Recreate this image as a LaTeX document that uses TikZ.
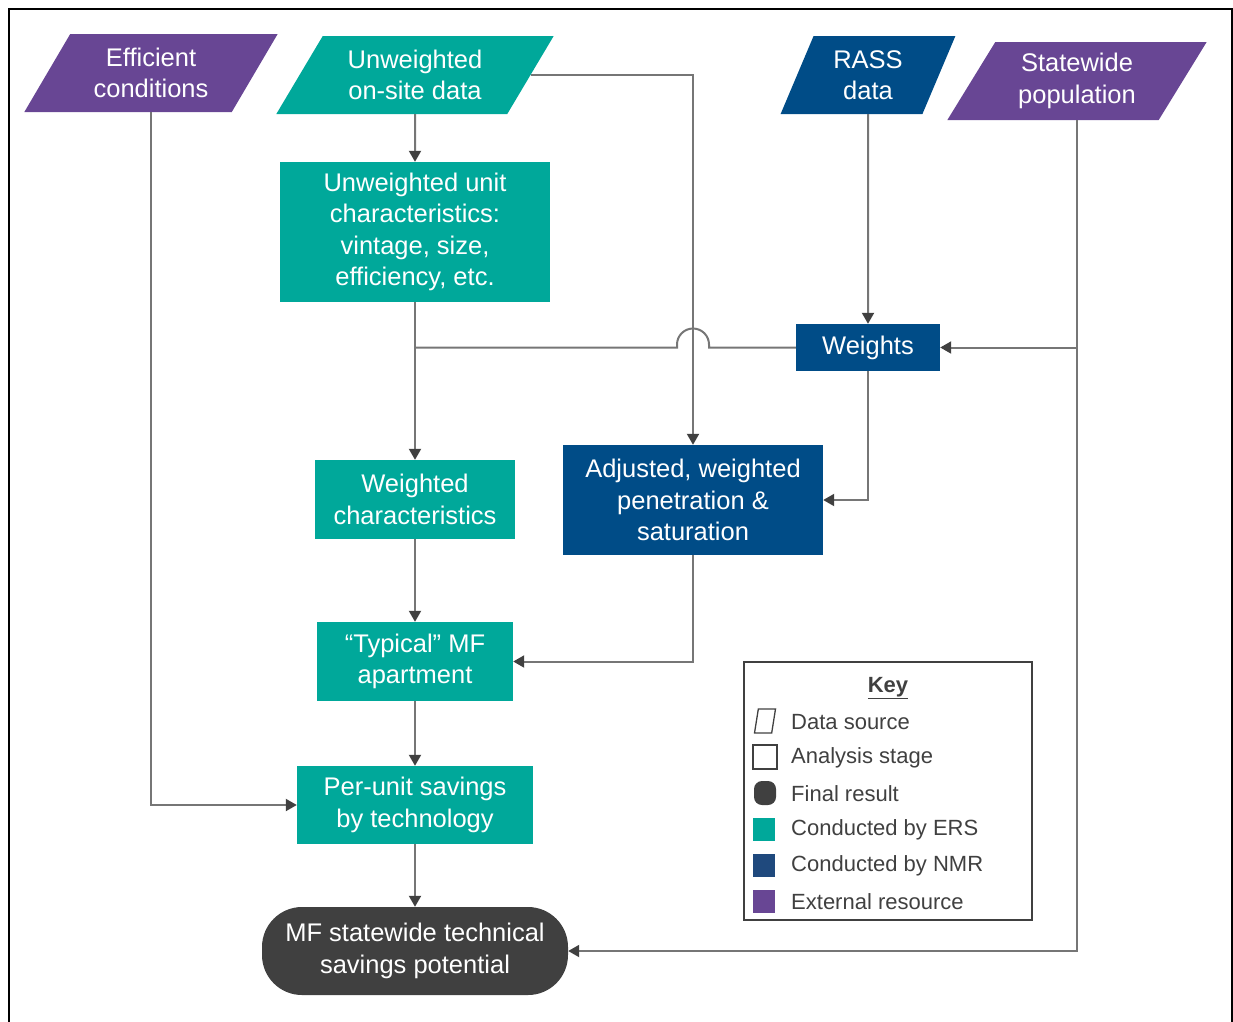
\documentclass[tikz,border=0pt]{standalone}
\usepackage{fontspec}
\setmainfont{Liberation Sans}
\usetikzlibrary{shapes.geometric,arrows.meta}

\definecolor{ersteal}{RGB}{0,168,154}
\definecolor{nmrblue}{RGB}{0,76,135}
\definecolor{keyblue}{RGB}{31,73,125}
\definecolor{extpurple}{RGB}{104,70,148}
\definecolor{finalgray}{RGB}{64,64,64}
\definecolor{linegray}{RGB}{118,118,118}

\newcommand{\flowfont}{\fontsize{25.5}{31.5}\selectfont}
\newcommand{\legendfont}{\fontsize{22}{25}\selectfont}

\tikzset{
  stage/.style={rectangle, text=white, align=center, font=\flowfont, inner sep=0pt},
  datasrc/.style={trapezium, trapezium stretches=true, text=white, align=center, font=\flowfont, inner sep=0pt, minimum height=78pt},
  link/.style={draw=linegray, line width=2pt},
  arrow/.style={link, -{Triangle[length=11pt, width=12pt, color=finalgray]}},
  keyicon/.style={inner sep=0pt, line width=1.3pt},
  keyitem/.style={anchor=west, text=finalgray, font=\legendfont, inner sep=0pt},
}

\begin{document}
\begin{tikzpicture}[x=1pt, y=-1pt]
  \useasboundingbox (0,0) rectangle (1233,1021);
  \draw[line width=2pt] (9,1030) -- (9,9) -- (1232,9) -- (1232,1030);

  \node[datasrc, fill=extpurple, trapezium left angle=57, trapezium right angle=123, minimum width=254pt] (effic) at (151,73) {Efficient\\conditions};
  \node[datasrc, fill=ersteal, trapezium left angle=56, trapezium right angle=124, minimum width=278pt] (onsite) at (415,75) {Unweighted\\on-site data};
  \node[datasrc, fill=nmrblue, trapezium left angle=67, trapezium right angle=113, minimum width=175pt] (rass) at (868,75) {RASS\\data};
  \node[datasrc, fill=extpurple, trapezium left angle=58, trapezium right angle=122, minimum width=260pt] (statewide) at (1077,81) {Statewide\\population};

  \node[stage, fill=ersteal, minimum width=270pt, minimum height=140pt] (unitchar) at (415,232) {Unweighted unit\\characteristics:\\vintage, size,\\efficiency, etc.};
  \node[stage, fill=nmrblue, minimum width=144pt, minimum height=47pt] (weights) at (868,347.5) {Weights};
  \node[stage, fill=ersteal, minimum width=200pt, minimum height=79pt] (weighted) at (415,499.5) {Weighted\\characteristics};
  \node[stage, fill=nmrblue, minimum width=260pt, minimum height=110pt] (adjusted) at (693,500) {Adjusted, weighted\\penetration \&\\saturation};
  \node[stage, fill=ersteal, minimum width=196pt, minimum height=79pt] (typical) at (415,661.5) {“Typical” MF\\apartment};
  \node[stage, fill=ersteal, minimum width=236pt, minimum height=78pt] (perunit) at (415,805) {Per-unit savings\\by technology};
  \node[stage, fill=finalgray, rounded corners=40pt, minimum width=306pt, minimum height=88pt] (final) at (415,951) {MF statewide technical\\savings potential};

  \coordinate (hop) at (adjusted.north |- weights.west);
  \coordinate (join) at (unitchar.south |- weights.west);

  \draw[arrow] (effic) |- (perunit);
  \draw[arrow] (onsite) -- (unitchar);
  \draw[arrow] (onsite) -| (adjusted);
  \draw[arrow] (unitchar) -- (weighted);
  \draw[link] (weights.west) -- ([xshift=16pt]hop) -- ++(0,-3) arc[start angle=0, end angle=180, radius=16pt] -- ([xshift=-16pt]hop) -- (join);
  \draw[arrow] (rass) -- (weights);
  \draw[arrow] (statewide) |- (weights);
  \draw[arrow] (statewide) |- (final);
  \draw[arrow] (weights) |- (adjusted);
  \draw[arrow] (adjusted) |- (typical);
  \draw[arrow] (weighted) -- (typical);
  \draw[arrow] (typical) -- (perunit);
  \draw[arrow] (perunit) -- (final);

  \node[draw=finalgray, line width=1.3pt, minimum width=288pt, minimum height=258pt] (keybox) at (888,791) {};
  \node[text=finalgray, font=\legendfont\bfseries] (keytitle) at (888,688) {\underline{Key}};
  \node[keyicon, draw=finalgray, trapezium, trapezium stretches=true, trapezium left angle=74, trapezium right angle=106, inner sep=1pt, minimum width=21pt, minimum height=24pt] (keysrc) at (765,721) {};
  \node[keyicon, draw=finalgray, minimum width=24pt, minimum height=24pt] (keystage) at (765,757) {};
  \node[keyicon, fill=finalgray, rounded corners=8pt, minimum width=22pt, minimum height=24pt] (keyfinal) at (765,793) {};
  \node[keyicon, fill=ersteal, minimum width=22pt, minimum height=23pt] (keyers) at (764,829) {};
  \node[keyicon, fill=keyblue, minimum width=22pt, minimum height=23pt] (keynmr) at (764,865) {};
  \node[keyicon, fill=extpurple, minimum width=22pt, minimum height=23pt] (keyext) at (764,901) {};
  \node[keyitem] at (791,722) {Data source};
  \node[keyitem] at (791,758) {Analysis stage};
  \node[keyitem] at (791,794) {Final result};
  \node[keyitem] at (791,830) {Conducted by ERS};
  \node[keyitem] at (791,866) {Conducted by NMR};
  \node[keyitem] at (791,902) {External resource};
\end{tikzpicture}
\end{document}
